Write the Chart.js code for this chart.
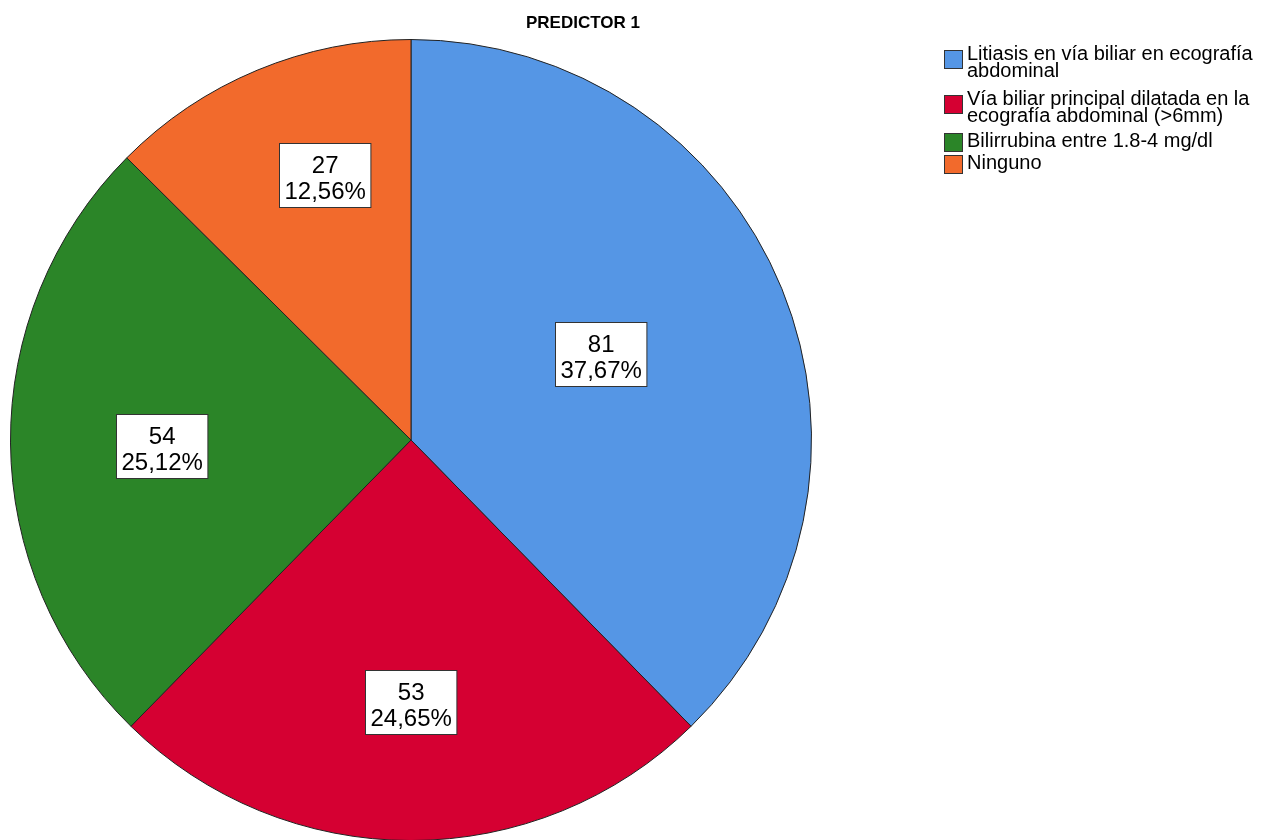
<!DOCTYPE html>
<html>
<head>
<meta charset="utf-8">
<script src="https://cdn.jsdelivr.net/npm/chart.js@4.4.0/dist/chart.umd.min.js"></script>
<style>
    html, body { margin: 0; padding: 0; background: #fff; overflow: hidden; }
    canvas { display: block; }
</style>
</head>
<body>
<canvas id="pie" width="1275" height="860"></canvas>
<script>
// chart data
const chartTitle = "PREDICTOR 1";
const categories = [
    "Litiasis en vía biliar en ecografía\nabdominal",
    "Vía biliar principal dilatada en la\necografía abdominal (>6mm)",
    "Bilirrubina entre 1.8-4 mg/dl",
    "Ninguno"
];
const counts = [81, 53, 54, 27];
const sliceColors = ["#5596e5", "#d50032", "#2b8528", "#f26a2c"];

// where each value box sits: fraction of radius, and fraction of the way through its slice
const labelRadius = [0.52, 0.655, 0.623, 0.697];
const labelAngle = [0.483, 0.5, 0.49, 0.60];
// legend rows: first-line baseline of every item
const legendBaselines = [60, 105, 147, 169];

const FONT = '"Liberation Sans", Arial, Helvetica, sans-serif';

function pctText(v, total) {
    return (v / total * 100).toFixed(2).replace(".", ",") + "%";
}

const valueBoxes = {
    id: 'value_boxes',
    afterDatasetsDraw: (chart) => {
        const ctx = chart.ctx;
        const data = chart.data.datasets[0].data;
        const total = data.reduce((a, b) => a + b, 0);
        const arcs = chart.getDatasetMeta(0).data;
        ctx.save();
        ctx.font = "24px " + FONT;
        ctx.textAlign = "center";
        ctx.textBaseline = "alphabetic";
        arcs.forEach((arc, i) => {
            const p = arc.getProps(['x', 'y', 'startAngle', 'endAngle', 'outerRadius'], true);
            const ang = p.startAngle + (p.endAngle - p.startAngle) * labelAngle[i];
            const r = p.outerRadius * labelRadius[i];
            const cx = p.x + Math.cos(ang) * r;
            const cy = p.y + Math.sin(ang) * r;
            const l1 = String(data[i]);
            const l2 = pctText(data[i], total);
            const w = Math.max(ctx.measureText(l1).width, ctx.measureText(l2).width) + 10;
            const h = 64;
            const bx = Math.round(cx - w / 2) + 0.5;
            const by = Math.round(cy - h / 2) + 0.5;
            ctx.fillStyle = "#fff";
            ctx.fillRect(bx, by, w, h);
            ctx.strokeStyle = "#333";
            ctx.lineWidth = 1;
            ctx.strokeRect(bx, by, w, h);
            ctx.fillStyle = "#000";
            ctx.fillText(l1, bx + w / 2, by + 29);
            ctx.fillText(l2, bx + w / 2, by + 55);
        });
        ctx.restore();
    }
};

const titleAndLegend = {
    id: 'title_and_legend',
    afterDraw: (chart) => {
        const ctx = chart.ctx;
        ctx.save();
        ctx.fillStyle = "#000";
        ctx.font = "bold 17px " + FONT;
        ctx.textAlign = "center";
        ctx.fillText(chartTitle, 583, 28);

        ctx.font = "20px " + FONT;
        ctx.textAlign = "left";
        chart.data.labels.forEach((lab, i) => {
            const lines = lab.split("\n");
            const base = legendBaselines[i];
            const sqTop = lines.length > 1 ? base - 10 : base - 14;
            ctx.fillStyle = chart.data.datasets[0].backgroundColor[i];
            ctx.fillRect(944.5, sqTop + 0.5, 18, 18);
            ctx.strokeStyle = "#333";
            ctx.lineWidth = 1;
            ctx.strokeRect(944.5, sqTop + 0.5, 18, 18);
            ctx.fillStyle = "#000";
            lines.forEach((ln, k) => {
                ctx.fillText(ln, 967, base + k * 17);
            });
        });
        ctx.restore();
    }
};

new Chart(document.getElementById("pie"), {
    type: 'pie',
    data: {
        labels: categories,
        datasets: [{
            data: counts,
            backgroundColor: sliceColors,
            borderColor: "#222",
            borderWidth: 1
        }]
    },
    options: {
        responsive: false,
        animation: false,
        layout: {
            padding: { left: 10, top: 39, right: 463, bottom: 19 }
        },
        plugins: {
            legend: { display: false },
            tooltip: { enabled: false },
            title: { display: false }
        }
    },
    plugins: [valueBoxes, titleAndLegend]
});
</script>
</body>
</html>
